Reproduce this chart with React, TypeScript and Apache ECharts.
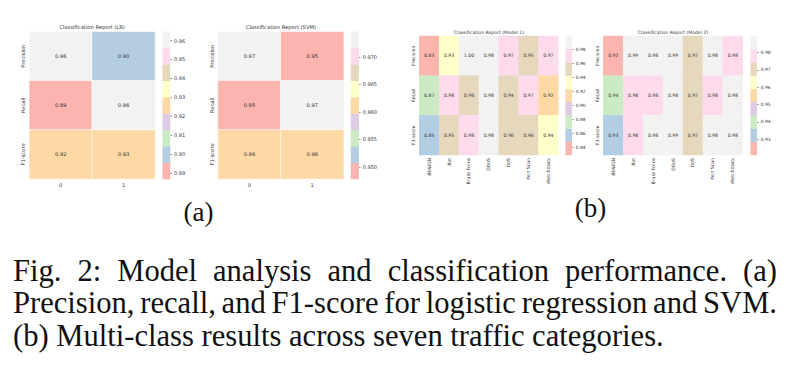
import React, { useEffect, useRef } from "react";
import * as echarts from "echarts";

// Pastel1 colormap (9 discrete colours), lowest bin first
const pastel1 = ["#fbb4ae", "#b3cde3", "#ccebc5", "#decbe4", "#fed9a6", "#ffffcc", "#e5d8bd", "#fddaec", "#f2f2f2"];

const metrics = ["Precision", "Recall", "F1-score"];

// (a) binary classification reports
const binaryClasses = ["0", "1"];
const lrPrecision = [0.9647, 0.9];
const lrRecall = [0.8868, 0.964];
const lrF1 = [0.922, 0.9295];
const lrTicks = [0.89, 0.9, 0.91, 0.92, 0.93, 0.94, 0.95, 0.96];

const svmPrecision = [0.9746, 0.948];
const svmRecall = [0.9478, 0.974];
const svmF1 = [0.961, 0.9612];
const svmTicks = [0.95, 0.955, 0.96, 0.965, 0.97];

// (b) multi-class classification reports
const trafficClasses = ["BENIGN", "Bot", "Brute Force", "DDoS", "DoS", "Port Scan", "Web Attack"];
const m1Precision = [0.829, 0.93, 0.999, 0.984, 0.97, 0.95, 0.97];
const m1Recall = [0.87, 0.978, 0.958, 0.984, 0.944, 0.97, 0.92];
const m1F1 = [0.85, 0.95, 0.976, 0.984, 0.958, 0.958, 0.938];
const m1Ticks = [0.84, 0.86, 0.88, 0.9, 0.92, 0.94, 0.96, 0.98];

const m2Precision = [0.921, 0.9894, 0.985, 0.989, 0.97, 0.984, 0.979];
const m2Recall = [0.94, 0.978, 0.978, 0.984, 0.97, 0.978, 0.983];
const m2F1 = [0.932, 0.978, 0.983, 0.986, 0.97, 0.983, 0.984];
const m2Ticks = [0.93, 0.94, 0.95, 0.96, 0.97, 0.98];

const captionLines = [
  "Fig. 2: Model analysis and classification performance. (a)",
  "Precision, recall, and F1-score for logistic regression and SVM.",
  "(b) Multi-class results across seven traffic categories.",
];

type Panel = {
  title: string;
  classes: string[];
  rows: number[][];
  ticks: number[];
  digits: number;
  grid: { left: number; top: number; width: number; height: number };
  bar: { left: number; width: number };
  fs: number;
  cbFs: number;
  titleY: number;
  border: number;
  xRotate: number;
};

const panels: Panel[] = [
  {
    title: "Classification Report (LR)",
    classes: binaryClasses,
    rows: [lrPrecision, lrRecall, lrF1],
    ticks: lrTicks,
    digits: 2,
    grid: { left: 29.3, top: 31.7, width: 125.7, height: 147.3 },
    bar: { left: 162.7, width: 7.3 },
    fs: 5.2,
    cbFs: 5,
    titleY: 27,
    border: 0.6,
    xRotate: 0,
  },
  {
    title: "Classification Report (SVM)",
    classes: binaryClasses,
    rows: [svmPrecision, svmRecall, svmF1],
    ticks: svmTicks,
    digits: 3,
    grid: { left: 218, top: 31.7, width: 125.7, height: 147.3 },
    bar: { left: 351, width: 7.7 },
    fs: 5.2,
    cbFs: 5,
    titleY: 27,
    border: 0.6,
    xRotate: 0,
  },
  {
    title: "Classification Report (Model 1)",
    classes: trafficClasses,
    rows: [m1Precision, m1Recall, m1F1],
    ticks: m1Ticks,
    digits: 2,
    grid: { left: 419.3, top: 36, width: 139, height: 119 },
    bar: { left: 565.7, width: 6 },
    fs: 4.6,
    cbFs: 4.5,
    titleY: 32.5,
    border: 0,
    xRotate: 90,
  },
  {
    title: "Classification Report (Model 2)",
    classes: trafficClasses,
    rows: [m2Precision, m2Recall, m2F1],
    ticks: m2Ticks,
    digits: 2,
    grid: { left: 603.3, top: 36, width: 139.4, height: 119 },
    bar: { left: 750.7, width: 6 },
    fs: 4.6,
    cbFs: 4.5,
    titleY: 32.5,
    border: 0,
    xRotate: 90,
  },
];

const FONT = "DejaVu Sans";
const SERIF = "Liberation Serif";
const TXT = "#333";

function buildOption() {
  const grids: any[] = [];
  const xAxes: any[] = [];
  const yAxes: any[] = [];
  const series: any[] = [];
  const visualMaps: any[] = [];
  const graphics: any[] = [];

  panels.forEach((p) => {
    const all = p.rows.flat();
    const vmin = Math.min(...all);
    const vmax = Math.max(...all);
    const step = (vmax - vmin) / pastel1.length;

    const gMain = grids.length;
    grids.push({ left: p.grid.left, top: p.grid.top, width: p.grid.width, height: p.grid.height, containLabel: false });
    const gBar = grids.length;
    grids.push({ left: p.bar.left, top: p.grid.top, width: p.bar.width, height: p.grid.height, containLabel: false });

    const xMain = xAxes.length;
    xAxes.push({
      type: "category",
      gridIndex: gMain,
      data: p.classes,
      axisLine: { show: false },
      axisTick: { show: false },
      splitLine: { show: false },
      axisLabel: { fontSize: p.fs, fontFamily: FONT, color: TXT, margin: 3, rotate: p.xRotate, interval: 0 },
    });
    const xBar = xAxes.length;
    xAxes.push({ type: "category", gridIndex: gBar, data: ["cb"], show: false });

    const yMain = yAxes.length;
    yAxes.push({
      type: "category",
      gridIndex: gMain,
      data: metrics,
      inverse: true,
      axisLine: { show: false },
      axisTick: { show: false },
      splitLine: { show: false },
      axisLabel: { fontSize: p.fs, fontFamily: FONT, color: TXT, margin: 3.5, rotate: 90, interval: 0 },
    });
    const yBar = yAxes.length;
    yAxes.push({ type: "category", gridIndex: gBar, data: pastel1.map((_, i) => String(i)), show: false });
    yAxes.push({
      type: "value",
      gridIndex: gBar,
      min: vmin,
      max: vmax,
      position: "right",
      axisLine: { show: false },
      splitLine: { show: false },
      axisTick: { show: true, length: 2, customValues: p.ticks, lineStyle: { color: TXT, width: 0.5 } },
      axisLabel: {
        customValues: p.ticks,
        fontSize: p.cbFs,
        fontFamily: FONT,
        color: TXT,
        margin: 4,
        formatter: (v: number) => v.toFixed(p.digits),
      },
    });

    const sMain = series.length;
    series.push({
      type: "heatmap",
      xAxisIndex: xMain,
      yAxisIndex: yMain,
      data: p.rows.flatMap((row, r) => row.map((v, c) => [c, r, v])),
      label: {
        show: true,
        fontSize: p.fs,
        fontFamily: FONT,
        color: TXT,
        formatter: (params: any) => Number(params.value[2]).toFixed(2),
      },
      itemStyle: { borderColor: "#ffffff", borderWidth: p.border },
      emphasis: { disabled: true },
    });
    const sBar = series.length;
    series.push({
      type: "heatmap",
      xAxisIndex: xBar,
      yAxisIndex: yBar,
      data: pastel1.map((_, i) => [0, i, vmin + (i + 0.5) * step]),
      label: { show: false },
      emphasis: { disabled: true },
    });

    visualMaps.push({
      type: "piecewise",
      show: false,
      dimension: 2,
      seriesIndex: [sMain, sBar],
      pieces: pastel1.map((color, i) =>
        i === pastel1.length - 1
          ? { gte: vmin + i * step - 1e-9, lte: vmax + 1e-9, color }
          : { gte: i === 0 ? vmin - 1e-9 : vmin + i * step, lt: vmin + (i + 1) * step, color }
      ),
    });

    graphics.push({
      type: "text",
      x: p.grid.left + p.grid.width / 2,
      y: p.titleY,
      style: {
        text: p.title,
        fontSize: p.fs,
        fontFamily: FONT,
        fill: TXT,
        align: "center",
        verticalAlign: "middle",
        textAlign: "center",
        textVerticalAlign: "middle",
      },
    });
  });

  // sub-figure labels
  const subFs = 27;
  [
    { t: "(a)", x: 198.5, y: 212 },
    { t: "(b)", x: 590.5, y: 208 },
  ].forEach((s) =>
    graphics.push({
      type: "text",
      x: s.x,
      y: s.y,
      style: {
        text: s.t,
        fontSize: subFs,
        fontFamily: SERIF,
        fill: "#111",
        align: "center",
        verticalAlign: "middle",
        textAlign: "center",
        textVerticalAlign: "middle",
      },
    })
  );

  // caption, justified lines; font size chosen so the last line spans its measured width
  const canvas = document.createElement("canvas");
  const ctx = canvas.getContext("2d")!;
  ctx.font = `100px "${SERIF}"`;
  const lastW100 = ctx.measureText(captionLines[captionLines.length - 1]).width;
  const capFs = Math.max(20, Math.min(34, (100 * 651) / lastW100));
  ctx.font = `${capFs}px "${SERIF}"`;
  const capLeft = 13;
  const capRight = 777;
  const lineY = [271, 303, 335.5];
  captionLines.forEach((line, li) => {
    const words = line.split(" ");
    const widths = words.map((w) => ctx.measureText(w).width);
    const total = widths.reduce((a, b) => a + b, 0);
    const justify = li < captionLines.length - 1;
    const gap = justify ? (capRight - capLeft - total) / (words.length - 1) : ctx.measureText(" ").width;
    let x = capLeft;
    words.forEach((w, wi) => {
      graphics.push({
        type: "text",
        x,
        y: lineY[li],
        style: {
          text: w,
          fontSize: capFs,
          fontFamily: SERIF,
          fill: "#111",
          align: "left",
          verticalAlign: "middle",
          textAlign: "left",
          textVerticalAlign: "middle",
        },
      });
      x += widths[wi] + gap;
    });
  });

  return {
    animation: false,
    backgroundColor: "#ffffff",
    grid: grids,
    xAxis: xAxes,
    yAxis: yAxes,
    visualMap: visualMaps,
    series,
    graphic: graphics,
  };
}

export default function App() {
  const ref = useRef<HTMLDivElement>(null);
  useEffect(() => {
    if (!ref.current) return;
    const chart = echarts.init(ref.current, null, { renderer: "svg" });
    chart.setOption(buildOption() as any);
    return () => chart.dispose();
  }, []);
  return (
    <div
      ref={ref}
      style={{ position: "absolute", left: 0, top: 0, width: 792, height: 372, background: "#fff" }}
    />
  );
}
